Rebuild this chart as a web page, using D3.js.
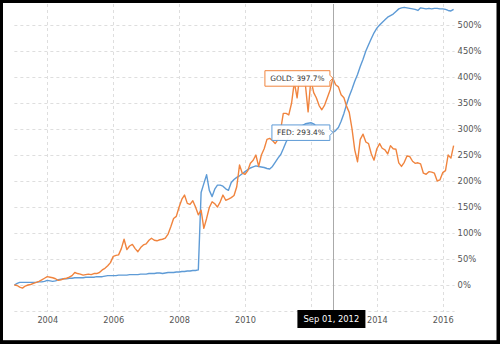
<!DOCTYPE html>
<html><head><meta charset="utf-8">
<script src="https://cdn.jsdelivr.net/npm/d3@7"></script>
<style>
html,body{margin:0;padding:0;background:#fff;}
svg{display:block;font-family:"DejaVu Sans",Verdana,sans-serif;}
</style></head>
<body><svg id="c" width="500" height="344"></svg>
<script>
// Monthly observations, Jan 2003 .. May 2016 (percent change since Jan 2003)
const startMonth = "2003-01";
const gold = [
  0, -1, -4, -6, -2, 0, 1, 3, 5, 7, 10, 13,
  16, 15, 14, 12, 9, 10, 12, 13, 15, 18, 24, 22,
  21, 19, 20, 21, 20, 22, 22, 24, 29, 32, 37, 43,
  55, 57, 58, 70, 88, 68, 75, 78, 70, 64, 72, 77,
  79, 86, 90, 86, 85, 87, 88, 90, 98, 112, 128, 132,
  150, 165, 173, 157, 155, 162, 150, 135, 144, 109, 128, 149,
  160, 156, 150, 160, 173, 163, 165, 168, 172, 189, 231, 215,
  213, 220, 234, 240, 250, 228, 250, 262, 280, 282, 278, 272,
  280, 300, 330, 330, 327, 350, 390, 360, 405, 395, 385, 333,
  395, 370, 360, 345, 337, 346, 360, 375, 397.7, 385, 381, 366,
  360, 343, 332, 300, 260, 237, 280, 290, 275, 272, 252, 240,
  262, 272, 263, 260, 252, 268, 262, 261, 235, 228, 236, 248,
  247, 238, 234, 235, 233, 215, 213, 218, 217, 215, 200, 202,
  216, 220, 250, 244, 268
];
const fed = [
  0, 3, 5, 5, 5, 5, 5, 5, 5, 6, 6, 7,
  9, 8, 7, 8, 10, 11, 12, 12, 13, 13, 14, 14,
  14, 14, 15, 15, 15, 15, 16, 16, 16, 17, 18, 18,
  18, 18, 19, 19, 19, 19, 20, 20, 20, 20, 21, 21,
  21, 22, 22, 22, 23, 23, 22, 23, 24, 24, 24, 25,
  25, 26, 26, 27, 27, 28, 28, 29, 178, 195, 212, 182,
  170, 185, 192, 192, 190, 185, 182, 197, 203, 207, 210, 214,
  218, 222, 225, 227, 229, 228, 227, 226, 224, 223, 228, 236,
  244, 251, 262, 275, 284, 292, 297, 302, 305, 307, 310, 311,
  312, 310, 305, 299, 298, 298, 296, 295, 293.4, 297, 303, 315,
  330, 348, 363, 377, 392, 405, 420, 434, 450, 462, 474, 485,
  494, 500, 505, 510, 515, 518, 521, 526, 531, 533, 534, 533,
  532, 531, 530, 528, 533, 532, 531, 532, 531, 532, 532, 531,
  531, 530, 528, 527, 530
];
const yTicks = [0, 50, 100, 150, 200, 250, 300, 350, 400, 450, 500];
const yGrid = [-50, 0, 50, 100, 150, 200, 250, 300, 350, 400, 450, 500];
const xTickYears = [2004, 2006, 2008, 2010, 2012, 2014, 2016];
const hoverDate = "2012-09";
const hoverLabel = "Sep 01, 2012";
const seriesNames = ["GOLD", "FED"];

const W = 500, H = 344;
const svg = d3.select("#c");
const parse = d3.timeParse("%Y-%m");
const d0 = parse(startMonth);
const dates = gold.map((_, i) => d3.timeMonth.offset(d0, i));

const x = d3.scaleTime()
  .domain([new Date(2004, 0, 1), new Date(2016, 0, 1)])
  .range([47.3, 442.7]);
const y = d3.scaleLinear().domain([0, 500]).range([285, 25]);
const plotL = x(d0), plotR = x(dates[dates.length - 1]) + 1;

// frame
svg.append("rect").attr("width", W).attr("height", H).attr("fill", "#000");
svg.append("rect").attr("x", 3).attr("y", 3).attr("width", W - 6.5).attr("height", H - 6.8).attr("fill", "#fff");

// grid
const grid = svg.append("g").attr("stroke", "#dedede").attr("stroke-dasharray", "3,3").attr("stroke-width", 1);
grid.selectAll("line.h").data(yGrid).join("line")
  .attr("x1", plotL).attr("x2", plotR)
  .attr("y1", d => Math.round(y(d)) + 0.5).attr("y2", d => Math.round(y(d)) + 0.5);
grid.selectAll("line.v").data(xTickYears).join("line")
  .attr("x1", d => Math.round(x(new Date(d, 0, 1))) + 0.5)
  .attr("x2", d => Math.round(x(new Date(d, 0, 1))) + 0.5)
  .attr("y1", 4).attr("y2", 312);

// crosshair position
const hi = dates.findIndex(d => d3.timeFormat("%Y-%m")(d) === hoverDate);
const hx = x(dates[hi]);
const boxL = hx - 35.5, boxR = boxL + 68;

// axes
const yAxis = d3.axisRight(y).tickValues(yTicks).tickSize(0).tickPadding(4).tickFormat(d => d + "%");
const gy = svg.append("g").attr("transform", `translate(${plotR - 1},0)`).call(yAxis);
gy.select(".domain").remove();
gy.selectAll("text").attr("fill", "#555").attr("font-size", "8.4px").attr("font-family", "DejaVu Sans");

// year labels hidden under the date box are not drawn (as in the reference)
const xAxis = d3.axisBottom(x)
  .tickValues(xTickYears.map(v => new Date(v, 0, 1)).filter(d => x(d) + 11 < boxL || x(d) - 11 > boxR))
  .tickSize(0).tickPadding(7).tickFormat(d3.timeFormat("%Y"));
const gx = svg.append("g").attr("transform", "translate(0,310)").call(xAxis);
gx.select(".domain").remove();
gx.selectAll("text").attr("fill", "#555").attr("font-size", "8.2px").attr("font-family", "DejaVu Sans");

// lines
const line = vals => d3.line().x((d, i) => x(dates[i])).y(d => y(d))(vals);
svg.append("path").attr("d", line(fed)).attr("fill", "none").attr("stroke", "#5e9bd6").attr("stroke-width", 1.4).attr("stroke-linejoin", "round");
svg.append("path").attr("d", line(gold)).attr("fill", "none").attr("stroke", "#f0843e").attr("stroke-width", 1.4).attr("stroke-linejoin", "round");

// crosshair
svg.append("line").attr("x1", Math.round(hx) + 0.5).attr("x2", Math.round(hx) + 0.5)
  .attr("y1", 4).attr("y2", 312).attr("stroke", "#aaa").attr("stroke-width", 1);

// tooltips
function tip(name, val, color, boxW) {
  const py = y(val);
  const bx = hx - 3 - boxW, by = py - 7.5, bh = 15.5;
  const g = svg.append("g");
  g.append("path")
    .attr("d", `M${bx},${by}H${bx + boxW}V${py - 3}L${hx},${py}L${bx + boxW},${py + 3}V${by + bh}H${bx}Z`)
    .attr("fill", "#fff").attr("fill-opacity", 0.95).attr("stroke", color).attr("stroke-width", 1);
  g.append("text").attr("x", bx + boxW / 2).attr("y", py).attr("dy", "0.35em")
    .attr("text-anchor", "middle").attr("font-size", "7.4px").attr("fill", "#333")
    .text(`${name}: ${d3.format(".1f")(val)}%`);
}
tip(seriesNames[0], gold[hi], "#f0843e", 65);
tip(seriesNames[1], fed[hi], "#5e9bd6", 58);

// date label
svg.append("rect").attr("x", boxL).attr("y", 310).attr("width", 68).attr("height", 18).attr("fill", "#000");
svg.append("text").attr("x", hx - 1.5).attr("y", 319).attr("dy", "0.35em").attr("text-anchor", "middle")
  .attr("font-size", "8.4px").attr("fill", "#fff").text(hoverLabel);
</script></body></html>
